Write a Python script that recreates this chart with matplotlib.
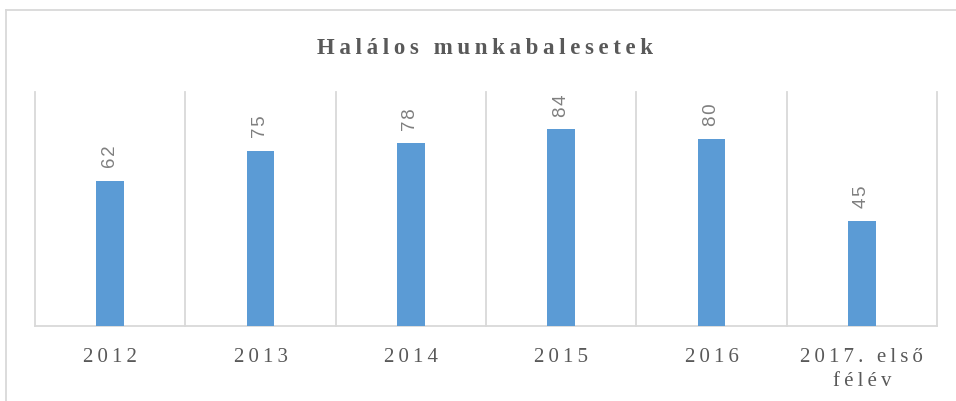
import matplotlib.pyplot as plt
from matplotlib.lines import Line2D

categories = ["2012", "2013", "2014", "2015", "2016", "2017. első\nfélév"]
values = [62, 75, 78, 84, 80, 45]
title = "Halálos munkabalesetek"

SERIF = ["Liberation Serif", "DejaVu Serif"]
SANS = ["Liberation Sans", "DejaVu Sans"]


def spaced(s, sep="\u2009"):
    # fake letter spacing with thin spaces
    return "\n".join(sep.join(line) for line in s.split("\n"))


def main():
    fig = plt.figure(figsize=(9.56, 4.02), dpi=100)
    ax = fig.add_axes([35 / 956, 1 - 327 / 402, (937 - 35) / 956, (327 - 93) / 402])

    x = list(range(len(categories)))
    ax.bar(x, values, width=0.182, color="#5B9BD5", zorder=3)

    for xi, v in zip(x, values):
        ax.annotate(spaced(str(v), "\u200a"), (xi, v), xytext=(0, 10),
                    textcoords="offset points", rotation=90, ha="center",
                    va="bottom", fontsize=13.5, color="#7f7f7f", family=SANS)

    ax.set_xlim(-0.5, len(categories) - 0.5)
    ax.set_ylim(0, 100)
    ax.set_yticks([])
    ax.set_xticks(x)
    ax.set_xticklabels([spaced(c) for c in categories], family=SERIF,
                       fontsize=15, color="#595959", linespacing=1.35)
    ax.tick_params(axis="x", length=0, pad=15)
    ax.set_xticks([i - 0.5 for i in range(len(categories) + 1)], minor=True)
    ax.tick_params(axis="x", which="minor", length=0)
    ax.grid(which="minor", axis="x", color="#d9d9d9", linewidth=1.3, clip_on=False)
    for s in ["top", "left", "right"]:
        ax.spines[s].set_visible(False)
    ax.spines["bottom"].set_color("#d9d9d9")
    ax.spines["bottom"].set_linewidth(1.3)

    fig.text(485 / 956, 1 - 48 / 402, spaced(title), ha="center", va="center",
             fontsize=16.5, fontweight="bold", color="#595959", family=SERIF)

    # chart border (only left and top edges are in view)
    bx, by = 6 / 956, 1 - 10.5 / 402
    fig.add_artist(Line2D([bx, bx], [0, by], color="#d9d9d9", linewidth=1.3))
    fig.add_artist(Line2D([bx, 1], [by, by], color="#d9d9d9", linewidth=1.3))

    fig.savefig("out.png", dpi=100)


if __name__ == "__main__":
    main()
